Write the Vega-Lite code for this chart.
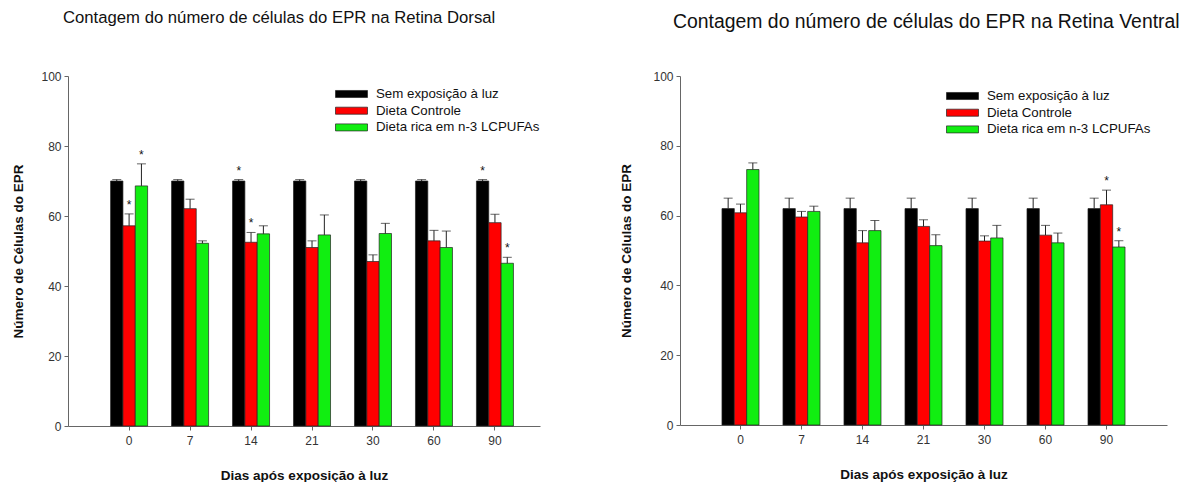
{
  "$schema": "https://vega.github.io/schema/vega-lite/v6.json",
  "padding": {"left": 11, "top": 10, "right": 0, "bottom": 0},
  "spacing": 79,
  "datasets": {
    "dorsal": [
      {"dia": "0", "grupo": "Sem exposição à luz", "media": 70, "sup": 70.4, "sig": ""},
      {"dia": "0", "grupo": "Dieta Controle", "media": 57.2, "sup": 60.6, "sig": "*"},
      {"dia": "0", "grupo": "Dieta rica em n-3 LCPUFAs", "media": 68.6, "sup": 74.9, "sig": "*"},
      {"dia": "7", "grupo": "Sem exposição à luz", "media": 70, "sup": 70.4, "sig": ""},
      {"dia": "7", "grupo": "Dieta Controle", "media": 62.1, "sup": 64.8, "sig": ""},
      {"dia": "7", "grupo": "Dieta rica em n-3 LCPUFAs", "media": 52.2, "sup": 52.9, "sig": ""},
      {"dia": "14", "grupo": "Sem exposição à luz", "media": 70, "sup": 70.4, "sig": "*"},
      {"dia": "14", "grupo": "Dieta Controle", "media": 52.5, "sup": 55.3, "sig": "*"},
      {"dia": "14", "grupo": "Dieta rica em n-3 LCPUFAs", "media": 54.9, "sup": 57.2, "sig": ""},
      {"dia": "21", "grupo": "Sem exposição à luz", "media": 70, "sup": 70.4, "sig": ""},
      {"dia": "21", "grupo": "Dieta Controle", "media": 51.0, "sup": 52.9, "sig": ""},
      {"dia": "21", "grupo": "Dieta rica em n-3 LCPUFAs", "media": 54.6, "sup": 60.3, "sig": ""},
      {"dia": "30", "grupo": "Sem exposição à luz", "media": 70, "sup": 70.4, "sig": ""},
      {"dia": "30", "grupo": "Dieta Controle", "media": 47.0, "sup": 48.9, "sig": ""},
      {"dia": "30", "grupo": "Dieta rica em n-3 LCPUFAs", "media": 55.0, "sup": 57.9, "sig": ""},
      {"dia": "60", "grupo": "Sem exposição à luz", "media": 70, "sup": 70.4, "sig": ""},
      {"dia": "60", "grupo": "Dieta Controle", "media": 52.9, "sup": 55.9, "sig": ""},
      {"dia": "60", "grupo": "Dieta rica em n-3 LCPUFAs", "media": 51.0, "sup": 55.7, "sig": ""},
      {"dia": "90", "grupo": "Sem exposição à luz", "media": 70, "sup": 70.4, "sig": "*"},
      {"dia": "90", "grupo": "Dieta Controle", "media": 58.1, "sup": 60.5, "sig": ""},
      {"dia": "90", "grupo": "Dieta rica em n-3 LCPUFAs", "media": 46.5, "sup": 48.2, "sig": "*"}
    ],
    "ventral": [
      {"dia": "0", "grupo": "Sem exposição à luz", "media": 62, "sup": 65, "sig": ""},
      {"dia": "0", "grupo": "Dieta Controle", "media": 60.8, "sup": 63.3, "sig": ""},
      {"dia": "0", "grupo": "Dieta rica em n-3 LCPUFAs", "media": 73.2, "sup": 75.1, "sig": ""},
      {"dia": "7", "grupo": "Sem exposição à luz", "media": 62, "sup": 65, "sig": ""},
      {"dia": "7", "grupo": "Dieta Controle", "media": 59.6, "sup": 61.2, "sig": ""},
      {"dia": "7", "grupo": "Dieta rica em n-3 LCPUFAs", "media": 61.2, "sup": 62.7, "sig": ""},
      {"dia": "14", "grupo": "Sem exposição à luz", "media": 62, "sup": 65, "sig": ""},
      {"dia": "14", "grupo": "Dieta Controle", "media": 52.2, "sup": 55.7, "sig": ""},
      {"dia": "14", "grupo": "Dieta rica em n-3 LCPUFAs", "media": 55.7, "sup": 58.6, "sig": ""},
      {"dia": "21", "grupo": "Sem exposição à luz", "media": 62, "sup": 65, "sig": ""},
      {"dia": "21", "grupo": "Dieta Controle", "media": 56.9, "sup": 58.8, "sig": ""},
      {"dia": "21", "grupo": "Dieta rica em n-3 LCPUFAs", "media": 51.4, "sup": 54.5, "sig": ""},
      {"dia": "30", "grupo": "Sem exposição à luz", "media": 62, "sup": 65, "sig": ""},
      {"dia": "30", "grupo": "Dieta Controle", "media": 52.7, "sup": 54.2, "sig": ""},
      {"dia": "30", "grupo": "Dieta rica em n-3 LCPUFAs", "media": 53.6, "sup": 57.2, "sig": ""},
      {"dia": "60", "grupo": "Sem exposição à luz", "media": 62, "sup": 65, "sig": ""},
      {"dia": "60", "grupo": "Dieta Controle", "media": 54.4, "sup": 57.2, "sig": ""},
      {"dia": "60", "grupo": "Dieta rica em n-3 LCPUFAs", "media": 52.2, "sup": 55.0, "sig": ""},
      {"dia": "90", "grupo": "Sem exposição à luz", "media": 62, "sup": 65, "sig": ""},
      {"dia": "90", "grupo": "Dieta Controle", "media": 63.1, "sup": 67.3, "sig": "*"},
      {"dia": "90", "grupo": "Dieta rica em n-3 LCPUFAs", "media": 51.0, "sup": 52.8, "sig": "*"}
    ]
  },
  "hconcat": [
    {
      "width": 472,
      "height": 350,
      "title": {"text": "Contagem do número de células do EPR na Retina Dorsal", "anchor": "start", "frame": "group", "dx": -5, "fontSize": 16.7, "offset": 43},
      "data": {"name": "dorsal"},
      "encoding": {
        "x": {"field": "dia", "type": "nominal", "sort": ["0", "7", "14", "21", "30", "60", "90"], "title": "Dias após exposição à luz",
              "scale": {"paddingInner": 0.393, "paddingOuter": 0.567, "align": 0.616}},
        "xOffset": {"field": "grupo", "type": "nominal", "sort": ["Sem exposição à luz", "Dieta Controle", "Dieta rica em n-3 LCPUFAs"], "scale": {"paddingInner": 0, "paddingOuter": 0}}
      },
      "layer": [
        {
          "mark": {"type": "bar", "stroke": "#222", "strokeWidth": 0.7},
          "encoding": {
            "y": {"field": "media", "type": "quantitative", "title": "Número de Células do EPR", "scale": {"domain": [0, 100]}, "axis": {"values": [0, 20, 40, 60, 80, 100]}},
            "color": {"field": "grupo", "type": "nominal", "sort": ["Sem exposição à luz", "Dieta Controle", "Dieta rica em n-3 LCPUFAs"],
                      "scale": {"domain": ["Sem exposição à luz", "Dieta Controle", "Dieta rica em n-3 LCPUFAs"], "range": ["#000000", "#ff0000", "#11ee11"]},
                      "legend": {"legendX": 267, "legendY": 11}}
          }
        },
        {
          "mark": {"type": "rule", "color": "#222", "strokeWidth": 1},
          "encoding": {"y": {"field": "media", "type": "quantitative"}, "y2": {"field": "sup"}}
        },
        {
          "mark": {"type": "tick", "color": "#222", "size": 9, "thickness": 1},
          "encoding": {"y": {"field": "sup", "type": "quantitative"}}
        },
        {
          "transform": [{"filter": "datum.sig == '*'"}],
          "mark": {"type": "text", "fontSize": 12, "baseline": "middle", "dy": -9, "color": "#111"},
          "encoding": {"y": {"field": "sup", "type": "quantitative"}, "text": {"field": "sig"}}
        }
      ]
    },
    {
      "width": 487,
      "height": 349,
      "title": {"text": "Contagem do número de células do EPR na Retina Ventral", "anchor": "start", "frame": "group", "dx": -7, "fontSize": 19.4, "offset": 38},
      "data": {"name": "ventral"},
      "encoding": {
        "x": {"field": "dia", "type": "nominal", "sort": ["0", "7", "14", "21", "30", "60", "90"], "title": "Dias após exposição à luz",
              "scale": {"paddingInner": 0.393, "paddingOuter": 0.688}},
        "xOffset": {"field": "grupo", "type": "nominal", "sort": ["Sem exposição à luz", "Dieta Controle", "Dieta rica em n-3 LCPUFAs"], "scale": {"paddingInner": 0, "paddingOuter": 0}}
      },
      "layer": [
        {
          "mark": {"type": "bar", "stroke": "#222", "strokeWidth": 0.7},
          "encoding": {
            "y": {"field": "media", "type": "quantitative", "title": "Número de Células do EPR", "scale": {"domain": [0, 100]}, "axis": {"values": [0, 20, 40, 60, 80, 100], "titlePadding": 19}},
            "color": {"field": "grupo", "type": "nominal", "sort": ["Sem exposição à luz", "Dieta Controle", "Dieta rica em n-3 LCPUFAs"],
                      "scale": {"domain": ["Sem exposição à luz", "Dieta Controle", "Dieta rica em n-3 LCPUFAs"], "range": ["#000000", "#ff0000", "#11ee11"]},
                      "legend": {"legendX": 266, "legendY": 13}}
          }
        },
        {
          "mark": {"type": "rule", "color": "#222", "strokeWidth": 1},
          "encoding": {"y": {"field": "media", "type": "quantitative"}, "y2": {"field": "sup"}}
        },
        {
          "mark": {"type": "tick", "color": "#222", "size": 9, "thickness": 1},
          "encoding": {"y": {"field": "sup", "type": "quantitative"}}
        },
        {
          "transform": [{"filter": "datum.sig == '*'"}],
          "mark": {"type": "text", "fontSize": 12, "baseline": "middle", "dy": -9, "color": "#111"},
          "encoding": {"y": {"field": "sup", "type": "quantitative"}, "text": {"field": "sig"}}
        }
      ]
    }
  ],
  "resolve": {
    "scale": {"x": "independent", "y": "independent", "color": "independent", "xOffset": "independent"},
    "legend": {"color": "independent"},
    "axis": {"x": "independent", "y": "independent"}
  },
  "config": {
    "font": "Liberation Sans",
    "view": {"stroke": null},
    "title": {"font": "Liberation Sans", "fontWeight": "normal", "color": "#111"},
    "axis": {
      "grid": false,
      "domainColor": "#666",
      "tickColor": "#666",
      "tickSize": 4,
      "labelFont": "Liberation Sans",
      "labelFontSize": 12,
      "labelColor": "#333",
      "titleFont": "Liberation Sans",
      "titleFontSize": 13.5,
      "titleFontWeight": "bold",
      "titleColor": "#111"
    },
    "axisX": {"labelAngle": 0, "labelPadding": 5, "titlePadding": 22},
    "axisY": {"labelPadding": 3, "titlePadding": 15},
    "legend": {
      "orient": "none",
      "title": null,
      "symbolType": "M-1,-0.22H1V0.22H-1Z",
      "symbolSize": 1024,
      "symbolStrokeColor": "#222",
      "symbolStrokeWidth": 0.7,
      "symbolOpacity": 1,
      "labelFont": "Liberation Sans",
      "labelFontSize": 13.3,
      "labelColor": "#111",
      "labelOffset": 8,
      "labelLimit": 400,
      "padding": 0,
      "clipHeight": 14,
      "rowPadding": 2.7
    }
  }
}
